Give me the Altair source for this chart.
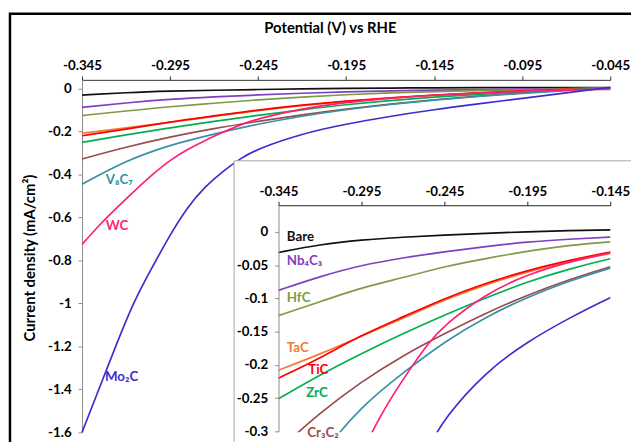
import altair as alt
import pandas as pd

# ---------------- data ----------------
x_coarse = [-0.345, -0.32, -0.295, -0.27, -0.245, -0.22, -0.195, -0.17, -0.145, -0.12, -0.095, -0.07, -0.045]
x_dense = [-0.345, -0.335, -0.325, -0.315, -0.305, -0.295, -0.285, -0.275, -0.265, -0.255,
           -0.245, -0.22, -0.195, -0.17, -0.145, -0.12, -0.095, -0.07, -0.045]

bare = [-0.031, -0.019, -0.012, -0.008, -0.005, -0.002, 0.0, 0.002, 0.003, 0.004, 0.004, 0.004, 0.004]
nb4c3 = [-0.088, -0.067, -0.050, -0.039, -0.030, -0.022, -0.015, -0.011, -0.008, -0.005, -0.003, -0.001, 0.002]
hfc = [-0.126, -0.105, -0.084, -0.069, -0.052, -0.040, -0.029, -0.020, -0.015, -0.010, -0.006, -0.002, 0.002]
tac = [-0.208, -0.184, -0.157, -0.130, -0.102, -0.079, -0.060, -0.045, -0.032, -0.021, -0.012, -0.005, 0.002]
tic = [-0.220, -0.190, -0.155, -0.128, -0.100, -0.077, -0.058, -0.043, -0.030, -0.020, -0.011, -0.004, 0.002]
zrc = [-0.251, -0.215, -0.183, -0.153, -0.125, -0.099, -0.075, -0.056, -0.040, -0.027, -0.015, -0.006, 0.002]
cr3c2 = [-0.328, -0.272, -0.225, -0.186, -0.153, -0.122, -0.095, -0.072, -0.052, -0.035, -0.020, -0.008, 0.002]
v8c7 = [-0.446, -0.335, -0.262, -0.212, -0.165, -0.128, -0.098, -0.074, -0.054, -0.037, -0.022, -0.010, 0.001]
wc = [-0.726, -0.633, -0.553, -0.475, -0.400, -0.333, -0.283, -0.241, -0.204, -0.168,
      -0.140, -0.093, -0.064, -0.045, -0.031, -0.021, -0.013, -0.007, -0.004]
mo2c = [-1.60, -1.39, -1.18, -0.98, -0.83, -0.68, -0.55, -0.455, -0.385, -0.325,
        -0.28, -0.21, -0.165, -0.13, -0.098, -0.072, -0.046, -0.020, 0.005]

series_names = ["Bare", "Nb₄C₃", "HfC", "TaC", "TiC", "ZrC", "Cr₃C₂", "V₈C₇", "WC", "Mo₂C"]
series_colors = ["#111111", "#8040C0", "#7F9A48", "#ED7D31", "#FF0000", "#00B050",
                 "#9B4B4B", "#3891A6", "#FF1F78", "#3A2FCB"]

main_label_names = ["V₈C₇", "WC", "Mo₂C"]
main_label_x = [-0.3315, -0.3315, -0.332]
main_label_y = [-0.425, -0.64, -1.345]

inset_label_names = ["Bare", "Nb₄C₃", "HfC", "TaC", "TiC", "ZrC", "Cr₃C₂"]
inset_label_x = [-0.3400, -0.3400, -0.3400, -0.3400, -0.3271, -0.3283, -0.3277]
inset_label_y = [-0.0074, -0.044, -0.100, -0.174, -0.208, -0.242, -0.303]

main_x_ticks = [-0.345, -0.295, -0.245, -0.195, -0.145, -0.095, -0.045]
main_y_ticks = [0, -0.2, -0.4, -0.6, -0.8, -1, -1.2, -1.4, -1.6]
inset_x_ticks = [-0.345, -0.295, -0.245, -0.195, -0.145]
inset_y_ticks = [0, -0.05, -0.1, -0.15, -0.2, -0.25, -0.3]

# ---------------- tables ----------------
series_data = [
    ("Bare", x_coarse, bare), ("Nb₄C₃", x_coarse, nb4c3), ("HfC", x_coarse, hfc),
    ("TaC", x_coarse, tac), ("TiC", x_coarse, tic), ("ZrC", x_coarse, zrc),
    ("Cr₃C₂", x_coarse, cr3c2), ("V₈C₇", x_coarse, v8c7), ("WC", x_dense, wc),
    ("Mo₂C", x_dense, mo2c),
]
rows = []
for name, xs, ys in series_data:
    for i, (xv, yv) in enumerate(zip(xs, ys)):
        rows.append({"series": name, "potential": xv, "current": yv, "i": i})
df = pd.DataFrame(rows)

main_lab = pd.DataFrame({"series": main_label_names, "potential": main_label_x, "current": main_label_y})
inset_lab = pd.DataFrame({"series": inset_label_names, "potential": inset_label_x, "current": inset_label_y})
dummy = pd.DataFrame({"a": [0]})

FONT = "Lato"
W, H = 535, 357
color = alt.Color("series:N", scale=alt.Scale(domain=series_names, range=series_colors), legend=None)
minus_fix = "replace(datum.label, '\u2212', '-')"

# ---------------- main plot ----------------
mx_scale = alt.Scale(domain=[-0.345, -0.045], nice=False, zero=False)
my_scale = alt.Scale(domain=[-1.6, 0.04], nice=False, zero=False)

main_x_axis = alt.Axis(orient="top", values=main_x_ticks, format=".3f", labelExpr=minus_fix,
                       title="Potential (V) vs RHE", titleX=251, titleY=-53, titleAlign="center",
                       titleBaseline="middle", titleFontSize=15, titleFont=FONT, titleFontWeight="bold",
                       titleColor="black", labelFont=FONT, labelFontSize=13.5, labelFontWeight="bold",
                       labelColor="black", labelPadding=3, tickSize=4, domainColor="#333333",
                       tickColor="#333333", grid=False, labelFlush=False, labelOverlap=False)
main_y_axis = alt.Axis(orient="left", values=main_y_ticks, format="~g", labelExpr=minus_fix,
                       title="Current density (mA/cm²)", titleX=-53, titleY=180, titleAngle=270,
                       titleAlign="center", titleBaseline="middle", titleFontSize=15, titleFont=FONT,
                       titleFontWeight="bold", titleColor="black", labelFont=FONT, labelFontSize=13.5,
                       labelFontWeight="bold", labelColor="black", labelPadding=7, tickSize=4,
                       domainColor="#8c8c8c", tickColor="#8c8c8c", grid=False, labelFlush=False,
                       labelOverlap=False)

frame = alt.Chart(dummy).mark_rect(fillOpacity=0, stroke="black", strokeWidth=2.5).encode(
    x=alt.value(-73), x2=alt.value(700), y=alt.value(-67), y2=alt.value(500))

main_lines = alt.Chart(df).mark_line(strokeWidth=1.7, interpolate="basis").encode(
    x=alt.X("potential:Q", scale=mx_scale, axis=main_x_axis),
    y=alt.Y("current:Q", scale=my_scale, axis=main_y_axis),
    color=color, order="i:Q")

main_text = alt.Chart(main_lab).mark_text(align="left", baseline="middle", font=FONT,
                                          fontSize=13.5, fontWeight="bold").encode(
    x=alt.X("potential:Q", scale=mx_scale, axis=main_x_axis),
    y=alt.Y("current:Q", scale=my_scale, axis=main_y_axis),
    color=color, text="series:N")

main = alt.layer(frame, main_lines, main_text)

# ---------------- inset ----------------
ix_scale = alt.Scale(domain=[-0.345, -0.145], nice=False, zero=False, range=[199, 535])
iy_scale = alt.Scale(domain=[-0.3, 0.04], nice=False, zero=False, range=[356, 127])

inset_x_axis = alt.Axis(orient="top", offset=-127, values=inset_x_ticks, format=".3f",
                        labelExpr=minus_fix, title=None, labelFont=FONT, labelFontSize=13.5,
                        labelFontWeight="bold", labelColor="black", labelPadding=3, tickSize=4,
                        domainColor="#222222", tickColor="#222222", grid=False, zindex=2,
                        labelFlush=False, labelOverlap=False)
inset_y_axis = alt.Axis(orient="left", offset=-199, values=inset_y_ticks, format="~g",
                        labelExpr=minus_fix, title=None, labelFont=FONT, labelFontSize=13.5,
                        labelFontWeight="bold", labelColor="black", labelPadding=7, tickSize=4,
                        domainColor="#8c8c8c", tickColor="#8c8c8c", grid=False, zindex=2,
                        labelFlush=False, labelOverlap=False)

inset_bg = alt.Chart(dummy).mark_rect(fill="white", stroke="#a6a6a6", strokeWidth=1).encode(
    x=alt.value(154), x2=alt.value(700), y=alt.value(82), y2=alt.value(500))

inset_lines = alt.Chart(df).mark_line(strokeWidth=1.7, interpolate="basis", clip=True).encode(
    x=alt.X("potential:Q", scale=ix_scale, axis=inset_x_axis),
    y=alt.Y("current:Q", scale=iy_scale, axis=inset_y_axis),
    color=color, order="i:Q")

inset_text = alt.Chart(inset_lab).mark_text(align="left", baseline="middle", font=FONT,
                                            fontSize=13.5, fontWeight="bold").encode(
    x=alt.X("potential:Q", scale=ix_scale, axis=inset_x_axis),
    y=alt.Y("current:Q", scale=iy_scale, axis=inset_y_axis),
    color=color, text="series:N")

inset = alt.layer(inset_bg, inset_lines, inset_text)

chart = alt.layer(main, inset).resolve_scale(x="independent", y="independent").properties(
    width=W, height=H,
    autosize=alt.AutoSizeParams(type="none"),
    padding={"left": 75, "top": 70, "right": 21, "bottom": 7},
    background="white",
).configure_view(stroke="transparent")

chart.save("out.html", embed_options={"renderer": "svg", "actions": False})
